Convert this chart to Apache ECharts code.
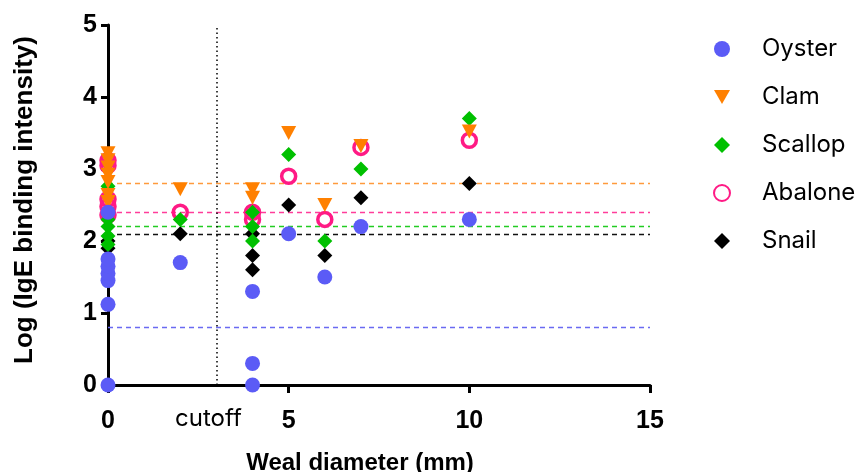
<!DOCTYPE html>
<html>
<head>
<meta charset="utf-8">
<title>IgE binding vs weal diameter</title>
<script src="https://cdn.jsdelivr.net/npm/echarts@6/dist/echarts.min.js"></script>
<style>
  html, body { margin: 0; padding: 0; background: #fff; }
  #chart { width: 859px; height: 472px; }
</style>
</head>
<body>
<div id="chart"></div>
<script>
// Skin-prick weal diameter (mm) vs log IgE binding intensity, per shellfish extract
const seriesNames = ['Oyster', 'Clam', 'Scallop', 'Abalone', 'Snail'];

const oysterPts = [
  [0, 0], [0, 1.12], [0, 1.45], [0, 1.55], [0, 1.65], [0, 1.75], [0, 2.4],
  [2, 1.7], [4, 1.3], [4, 0.3], [4, 0], [5, 2.1], [6, 1.5], [7, 2.2], [10, 2.3]
];
const clamPts = [
  [0, 3.22], [0, 3.12], [0, 3.02], [0, 2.92], [0, 2.82], [0, 2.64], [0, 2.54],
  [2, 2.72], [4, 2.72], [4, 2.6], [5, 3.5], [6, 2.5], [7, 3.32], [10, 3.52]
];
const scallopPts = [
  [0, 2.76], [0, 2.3], [0, 2.2], [0, 2.07], [0, 1.95],
  [2, 2.3], [4, 2.4], [4, 2.2], [4, 2.0], [5, 3.2], [6, 2.0], [7, 3.0], [10, 3.7]
];
const abalonePts = [
  [0, 3.12], [0, 3.05], [0, 2.58], [0, 2.48], [0, 2.36],
  [2, 2.4], [4, 2.4], [4, 2.3], [5, 2.9], [6, 2.3], [7, 3.3], [10, 3.4]
];
const snailPts = [
  [0, 2.0], [0, 1.9],
  [2, 2.1], [4, 2.1], [4, 1.8], [4, 1.6], [5, 2.5], [6, 1.8], [7, 2.6], [10, 2.8]
];

// Horizontal reference level for each extract (same order as seriesNames)
const refLevels = [0.8, 2.8, 2.2, 2.4, 2.1];
// Weal diameter cutoff
const cutoffX = 3;
const cutoffLabel = 'cutoff';

const xTicks = { min: 0, max: 15, step: 5 };
const yTicks = { min: 0, max: 5, step: 1 };

const markColors = ['#5b5bf6', '#ff8000', '#00c000', '#ff1a85', '#000000'];
const lineColors = ['#6a6af2', '#ff9a3c', '#22cc22', '#ff3d9a', '#111111'];

const triDown = 'path://M0,0L16,0L8,14Z';

const styleFor = [
  { symbol: 'circle', symbolSize: 15, itemStyle: { color: markColors[0], opacity: 1 }, z: 7 },
  { symbol: triDown, symbolSize: [15, 14], itemStyle: { color: markColors[1], opacity: 1 }, z: 6 },
  { symbol: 'diamond', symbolSize: 15, itemStyle: { color: markColors[2], opacity: 1 }, z: 5 },
  { symbol: 'circle', symbolSize: 14, itemStyle: { color: 'rgba(255,255,255,0)', borderColor: markColors[3], borderWidth: 3.5, opacity: 1 }, z: 3 },
  { symbol: 'diamond', symbolSize: 15, itemStyle: { color: markColors[4], opacity: 1 }, z: 4 }
];

const pointSets = [oysterPts, clamPts, scallopPts, abalonePts, snailPts];

const series = seriesNames.map((name, i) => ({
  name: name,
  type: 'scatter',
  data: pointSets[i],
  clip: false,
  symbol: styleFor[i].symbol,
  symbolSize: styleFor[i].symbolSize,
  itemStyle: styleFor[i].itemStyle,
  z: styleFor[i].z,
  emphasis: { disabled: true },
  markLine: {
    silent: true,
    symbol: 'none',
    z: 1,
    label: { show: false },
    lineStyle: { color: lineColors[i], type: [5, 4], width: 1.4 },
    data: [{ yAxis: refLevels[i] }]
  }
}));

// Vertical cutoff marker
series.push({
  name: 'cutoffLine',
  type: 'scatter',
  data: [],
  z: 1,
  markLine: {
    silent: true,
    symbol: 'none',
    lineStyle: { color: '#000', type: [1.5, 3], width: 1.5 },
    label: {
      show: true,
      position: 'start',
      formatter: cutoffLabel,
      distance: 22,
      offset: [-8, 0],
      color: '#000',
      fontSize: 24,
      fontFamily: 'Inter'
    },
    data: [{ xAxis: cutoffX }]
  }
});

const axisFont = { color: '#000', fontSize: 25, fontWeight: 'bold', fontFamily: 'Liberation Sans' };

const option = {
  animation: false,
  backgroundColor: '#fff',
  grid: { left: 108, right: 209, top: 25, bottom: 87, outerBoundsMode: 'none', containLabel: false },
  legend: {
    data: seriesNames,
    orient: 'vertical',
    left: 708,
    top: 32,
    itemWidth: 16,
    itemHeight: 16,
    itemGap: 24,
    selectedMode: false,
    textStyle: { color: '#000', fontSize: 24, fontFamily: 'Inter', lineHeight: 24, padding: [0, 0, 0, 27] }
  },
  xAxis: {
    type: 'value',
    min: xTicks.min,
    max: xTicks.max,
    interval: xTicks.step,
    name: 'Weal diameter (mm)',
    nameLocation: 'middle',
    nameGap: 66,
    nameTextStyle: Object.assign({}, axisFont, { fontSize: 24, padding: [0, 38, 0, 0] }),
    axisLine: { onZero: false, lineStyle: { color: '#000', width: 3 } },
    axisTick: { length: 8, lineStyle: { color: '#000', width: 3 } },
    axisLabel: Object.assign({ margin: 24 }, axisFont),
    splitLine: { show: false }
  },
  yAxis: {
    type: 'value',
    min: yTicks.min,
    max: yTicks.max,
    interval: yTicks.step,
    name: 'Log (IgE binding intensity)',
    nameLocation: 'middle',
    nameGap: 70,
    nameTextStyle: Object.assign({}, axisFont, { fontSize: 26, padding: [0, 0, 0, 10] }),
    axisLine: { onZero: false, lineStyle: { color: '#000', width: 3 } },
    axisTick: { length: 7, lineStyle: { color: '#000', width: 3 } },
    axisLabel: Object.assign({ margin: 11 }, axisFont),
    splitLine: { show: false }
  },
  series: series
};

const chart = echarts.init(document.getElementById('chart'), null, { renderer: 'canvas' });
chart.setOption(option);
</script>
</body>
</html>
